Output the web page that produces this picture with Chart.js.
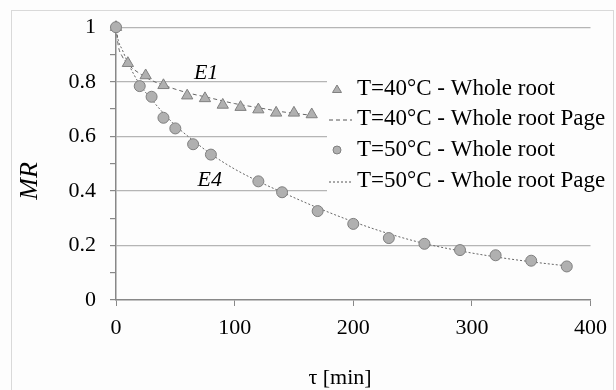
<!DOCTYPE html>
<html>
<head>
<meta charset="utf-8">
<script src="https://cdn.jsdelivr.net/npm/chart.js@4.4.0/dist/chart.umd.min.js"></script>
<style>
  body { margin: 0; background: #ffffff; }
  #wrap { width: 616px; height: 390px; }
</style>
</head>
<body>
<div id="wrap"><canvas id="grafico" width="616" height="390"></canvas></div>
<script>
// datos experimentales
const t40 = [0, 10, 25, 40, 60, 75, 90, 105, 120, 135, 150, 165];
const mr40 = [1.0, 0.868, 0.823, 0.787, 0.749, 0.739, 0.715, 0.707, 0.698, 0.686, 0.686, 0.68];
const t50 = [0, 20, 30, 40, 50, 65, 80, 120, 140, 170, 200, 230, 260, 290, 320, 350, 380];
const mr50 = [1.0, 0.784, 0.745, 0.668, 0.629, 0.571, 0.533, 0.435, 0.395, 0.326, 0.279, 0.227, 0.206, 0.183, 0.164, 0.144, 0.123];

// curvas del modelo Page
const tPage40 = [0, 2, 5, 10, 20, 30, 45, 60, 80, 100, 120, 140, 165];
const mrPage40 = [1.0, 0.93, 0.895, 0.865, 0.83, 0.805, 0.78, 0.76, 0.74, 0.72, 0.705, 0.69, 0.677];
const tPage50 = [0, 2, 5, 10, 20, 30, 40, 50, 65, 80, 100, 120, 140, 170, 200, 230, 260, 290, 320, 350, 380];
const mrPage50 = [1.0, 0.95, 0.92, 0.87, 0.79, 0.735, 0.685, 0.64, 0.585, 0.535, 0.48, 0.435, 0.395, 0.338, 0.287, 0.243, 0.207, 0.18, 0.158, 0.14, 0.125];

const etiquetas = ["T=40°C - Whole root", "T=40°C - Whole root Page", "T=50°C - Whole root", "T=50°C - Whole root Page"];
const notas = [
  { text: "E1", x: 76, y: 0.832 },
  { text: "E4", x: 79, y: 0.44 },
];

const toXY = (xs, ys) => xs.map((x, i) => ({ x: x, y: ys[i] }));

const serif = "'Liberation Serif', 'DejaVu Serif', serif";
const fondo = "#fdfdfd";

const fondoPlugin = {
  id: "fondo",
  beforeDraw(chart) {
    const ctx = chart.ctx;
    ctx.save();
    ctx.fillStyle = fondo;
    ctx.fillRect(0, 0, chart.width, chart.height);
    ctx.strokeStyle = "#d9d9d9";
    ctx.lineWidth = 1;
    ctx.strokeRect(11.5, 10.5, 602, 390);
    ctx.restore();
  },
};

const extrasPlugin = {
  id: "extras",
  afterDatasetsDraw(chart) {
    const ctx = chart.ctx;
    const xs = chart.scales.x;
    const ys = chart.scales.y;
    ctx.save();
    // notas E1 / E4
    ctx.fillStyle = "#000";
    ctx.font = "italic 22px " + serif;
    ctx.textAlign = "center";
    ctx.textBaseline = "middle";
    for (const n of notas) {
      ctx.fillText(n.text, xs.getPixelForValue(n.x), ys.getPixelForValue(n.y));
    }
    // titulos de ejes
    ctx.font = "22px " + serif;
    ctx.fillText("τ [min]", 340, 378);
    ctx.save();
    ctx.translate(30, 181);
    ctx.rotate(-Math.PI / 2);
    ctx.font = "italic 26px " + serif;
    ctx.fillText("MR", 0, 0);
    ctx.restore();

    // leyenda
    ctx.fillStyle = fondo;
    ctx.fillRect(327, 66, 280, 130);
    const filas = [89, 119, 150, 181];
    chart.data.datasets.forEach((ds, i) => {
      const y = filas[i];
      ctx.strokeStyle = "#555";
      ctx.fillStyle = "#b0b0b0";
      ctx.lineWidth = 1;
      if (ds.showLine) {
        ctx.setLineDash(ds.borderDash);
        ctx.beginPath();
        ctx.moveTo(329, y + 1);
        ctx.lineTo(352, y + 1);
        ctx.stroke();
        ctx.setLineDash([]);
      } else if (ds.pointStyle === "triangle") {
        ctx.strokeStyle = "#808080";
        ctx.beginPath();
        ctx.moveTo(337, y - 4);
        ctx.lineTo(341.5, y + 3.5);
        ctx.lineTo(332.5, y + 3.5);
        ctx.closePath();
        ctx.fill();
        ctx.stroke();
      } else {
        ctx.strokeStyle = "#808080";
        ctx.beginPath();
        ctx.arc(337, y, 4, 0, Math.PI * 2);
        ctx.fill();
        ctx.stroke();
      }
      ctx.fillStyle = "#000";
      ctx.font = "23px " + serif;
      ctx.textAlign = "left";
      ctx.textBaseline = "middle";
      ctx.fillText(ds.label, 357, y);
    });
    ctx.restore();
  },
};

const grafico = document.getElementById("grafico").getContext("2d");
const myChart = new Chart(grafico, {
  type: "scatter",
  data: {
    datasets: [
      {
        label: etiquetas[0],
        data: toXY(t40, mr40),
        pointStyle: "triangle",
        pointRadius: 6.5,
        backgroundColor: "#b0b0b0",
        borderColor: "#808080",
        borderWidth: 1,
        showLine: false,
        clip: false,
        order: 1,
      },
      {
        label: etiquetas[1],
        data: toXY(tPage40, mrPage40),
        showLine: true,
        pointRadius: 0,
        borderColor: "#666",
        borderWidth: 1,
        borderDash: [4, 3],
        cubicInterpolationMode: "monotone",
        clip: false,
        order: 3,
      },
      {
        label: etiquetas[2],
        data: toXY(t50, mr50),
        pointStyle: "circle",
        pointRadius: 5.5,
        backgroundColor: "#b0b0b0",
        borderColor: "#808080",
        borderWidth: 1,
        showLine: false,
        clip: false,
        order: 0,
      },
      {
        label: etiquetas[3],
        data: toXY(tPage50, mrPage50),
        showLine: true,
        pointRadius: 0,
        borderColor: "#666",
        borderWidth: 1,
        borderDash: [2, 2],
        cubicInterpolationMode: "monotone",
        clip: false,
        order: 2,
      },
    ],
  },
  options: {
    responsive: false,
    animation: false,
    layout: { padding: { top: 22, right: 25, left: 0, bottom: 0 } },
    plugins: {
      legend: { display: false },
      tooltip: { enabled: false },
    },
    scales: {
      x: {
        type: "linear",
        min: 0,
        max: 400,
        afterFit: (scale) => { scale.height = 90; },
        ticks: {
          stepSize: 100,
          color: "#000",
          padding: 9,
          font: { family: serif, size: 22 },
        },
        grid: {
          drawOnChartArea: false,
          drawTicks: true,
          tickLength: 6,
          tickColor: "#888",
        },
        border: { color: "#888", width: 1.5 },
      },
      y: {
        type: "linear",
        min: 0,
        max: 1,
        afterFit: (scale) => { scale.width = 116; },
        ticks: {
          stepSize: 0.1,
          autoSkip: false,
          color: "#000",
          padding: 14,
          font: { family: serif, size: 22 },
          callback: (v) => {
            const d = Math.round(v * 10);
            return d % 2 === 0 ? String(d / 10) : "";
          },
        },
        grid: {
          color: (c) => {
            const d = Math.round(c.tick.value * 10);
            return d % 2 === 0 && d !== 0 ? "#b5b5b5" : "rgba(0,0,0,0)";
          },
          lineWidth: 1.2,
          tickLength: 6,
          tickColor: "#888",
        },
        border: { color: "#888", width: 1.5 },
      },
    },
  },
  plugins: [fondoPlugin, extrasPlugin],
});
</script>
</body>
</html>
